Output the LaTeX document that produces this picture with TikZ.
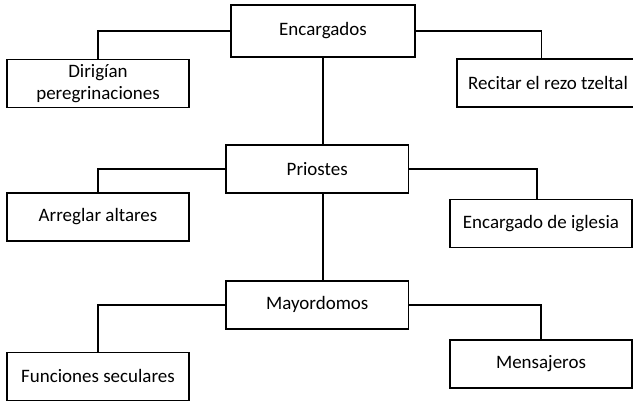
\documentclass[tikz,border=0pt]{standalone}
\usepackage{fontspec}
\setmainfont{Carlito}
\usepackage{tikz}

\begin{document}
\begin{tikzpicture}[
        caja/.style={draw, line width=1.2pt, minimum width=4.56cm, minimum height=1.2cm,
            inner sep=0pt, align=center, font=\fontsize{13.5}{16}\selectfont},
        linea/.style={line width=1.2pt}
    ]
            \useasboundingbox (0, 0) rectangle (15.825, 10.05);
            \clip (0, 0) rectangle (15.825, 10.05);

            \node[caja, minimum width=4.59cm, minimum height=1.3cm] (enc) at (8.075, 9.28) {Encargados};
            \node[caja] (dir) at (2.45, 7.96) {Dirigían\\peregrinaciones};
            \node[caja] (rec) at (13.7, 7.97) {Recitar el rezo tzeltal};

            \draw[linea] (enc.west) -| (dir.north);
            \draw[linea] (enc.east) -| ([xshift=-0.16cm]rec.north);

            \node[caja] (pri) at (7.93, 5.825) {Priostes};
            \node[caja] (arr) at (2.45, 4.625) {Arreglar altares};
            \node[caja] (igl) at (13.525, 4.46) {Encargado de iglesia};

            \draw[linea] (enc.south) -- (enc.south |- pri.north);
            \draw[linea] (pri.west) -| (arr.north);
            \draw[linea] (pri.east) -| ([xshift=-0.1cm]igl.north);

            \node[caja] (may) at (7.93, 2.43) {Mayordomos};
            \node[caja] (fun) at (2.45, 0.64) {Funciones seculares};
            \node[caja] (men) at (13.525, 0.955) {Mensajeros};

            \draw[linea] (enc.south |- pri.south) -- (enc.south |- may.north);
            \draw[linea] (may.west) -| (fun.north);
            \draw[linea] (may.east) -| (men.north);

        \end{tikzpicture}
\end{document}
